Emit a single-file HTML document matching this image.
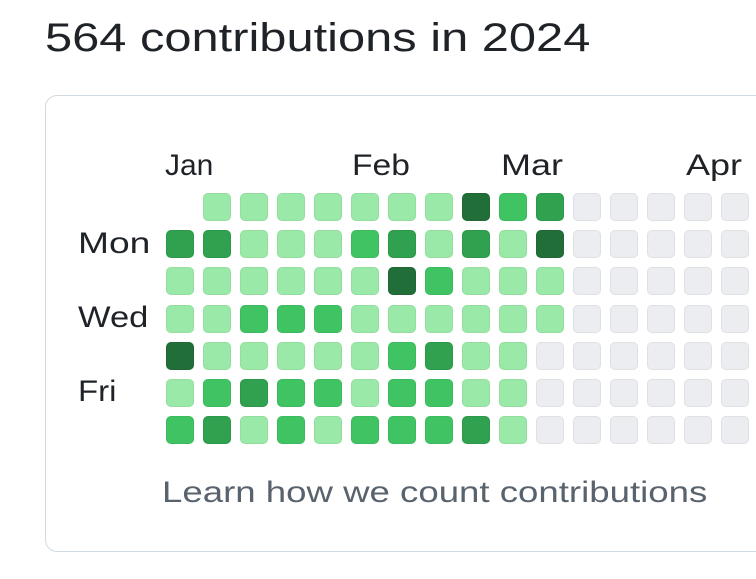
<!DOCTYPE html>
<html><head><meta charset="utf-8"><style>
body{margin:0;width:756px;height:579px;overflow:hidden;background:#fff;font-family:"Liberation Sans",sans-serif}
#wrap{position:relative;width:756px;height:579px;overflow:hidden}
.t{position:absolute;white-space:nowrap;transform-origin:0 50%}
.c{position:absolute;width:26px;height:26px;border-radius:5px;border:1px solid rgba(0,0,0,0.05);box-sizing:content-box}
</style></head><body><div id="wrap">
<div class="t" style="left:45px;top:16px;font-size:40px;color:#1f2328;transform:scaleX(1.22)">564 contributions in 2024</div>
<div style="position:absolute;left:45px;top:95px;width:760px;height:455px;border:1px solid #d1d9e0;border-radius:12px"></div>
<div class="t" style="left:165px;top:149px;font-size:30px;color:#1f2328">Jan</div>
<div class="t" style="left:352px;top:149px;font-size:30px;color:#1f2328;transform:scaleX(1.12)">Feb</div>
<div class="t" style="left:501px;top:149px;font-size:30px;color:#1f2328;transform:scaleX(1.2)">Mar</div>
<div class="t" style="left:686px;top:149px;font-size:30px;color:#1f2328;transform:scaleX(1.2)">Apr</div>
<div class="t" style="left:78px;top:227px;font-size:30px;color:#1f2328;transform:scaleX(1.24)">Mon</div>
<div class="t" style="left:78px;top:301px;font-size:30px;color:#1f2328;transform:scaleX(1.15)">Wed</div>
<div class="t" style="left:78px;top:375px;font-size:30px;color:#1f2328;transform:scaleX(1.1)">Fri</div>
<div class="t" style="left:162px;top:476px;font-size:30px;color:#59636e;transform:scaleX(1.22)">Learn how we count contributions</div>
<div id="grid"></div>
</div>
<script>
const levels=[[-1,3,1,1,4,1,2],[1,3,1,1,1,2,3],[1,1,1,2,1,3,1],[1,1,1,2,1,2,2],[1,1,1,2,1,2,1],[1,2,1,1,1,1,2],[1,3,4,1,2,2,2],[1,1,2,1,3,2,2],[4,3,1,1,1,1,3],[2,1,1,1,1,1,1],[3,4,1,1,0,0,0],[0,0,0,0,0,0,0],[0,0,0,0,0,0,0],[0,0,0,0,0,0,0],[0,0,0,0,0,0,0],[0,0,0,0,0,0,0]];
const colors=['#ebedf0','#9be9a8','#40c463','#30a14e','#216e39'];
const g=document.getElementById('grid');
levels.forEach((col,w)=>col.forEach((v,d)=>{
 if(v<0)return;
 const el=document.createElement('div');
 el.className='c';
 
 
 el.style.left=(166+w*37)+'px';el.style.top=(193+d*37.2)+'px';
 el.style.background=colors[v];
 g.appendChild(el);
}));
</script>
</body></html>
